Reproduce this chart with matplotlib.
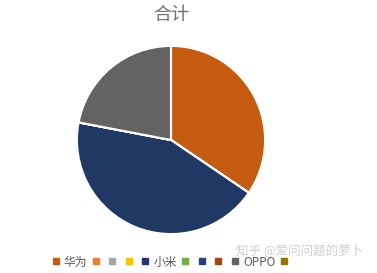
import matplotlib.pyplot as plt
from matplotlib.lines import Line2D

plt.rcParams['font.family'] = ['Noto Sans CJK SC', 'DejaVu Sans']

brands = ["华为", "", "", "", "小米", "", "", "", "OPPO", ""]
values = [34.5, 0, 0, 0, 43.5, 0, 0, 0, 22.0, 0]
colors = ["#C55A11", "#ED7D31", "#A5A5A5", "#FFC000", "#203864",
          "#70AD47", "#264478", "#9E480E", "#636363", "#997300"]

fig = plt.figure(figsize=(3.77, 2.73), dpi=100)
ax = fig.add_axes([(171 - 95) / 377, 1 - (140 + 95) / 273, 190 / 377, 190 / 273])
ax.pie(values, colors=colors, startangle=90, counterclock=False,
       wedgeprops=dict(edgecolor="white", linewidth=1.5))
ax.set_xlim(-1.01, 1.01)
ax.set_ylim(-1.01, 1.01)
ax.set_aspect("equal")

fig.text(171 / 377, 1 - 15 / 273, "合计", ha="center", va="center",
         fontsize=13, color="#707070")

fig.text(0.962, 1 - 250 / 273, "知乎 @爱问问题的萝卜", ha="right", va="center",
         fontsize=9, color="#D0D0D0")

handles = [Line2D([], [], marker="s", linestyle="none", markersize=4,
                  markerfacecolor=c, markeredgecolor=c) for c in colors]
fig.legend(handles, brands, loc="center", bbox_to_anchor=(172 / 377, 1 - 262 / 273),
           ncol=10, frameon=False, fontsize=8.5, handlelength=0.6,
           handletextpad=0.4, columnspacing=0.4, labelcolor="#595959")

fig.savefig("out.png", dpi=100)
